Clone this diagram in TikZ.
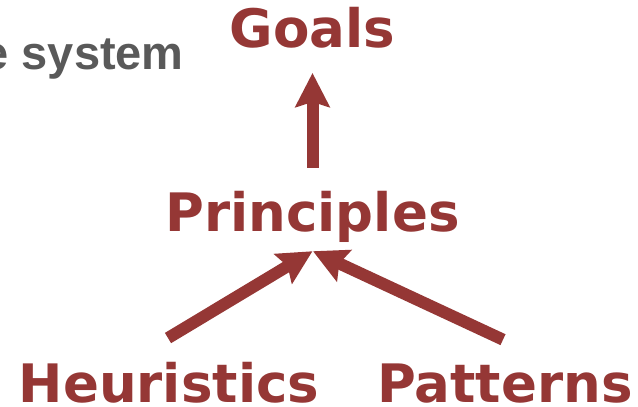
\documentclass[tikz,border=0pt]{standalone}
\usepackage{fontspec}
\setmainfont{DejaVu Sans}
\newfontfamily\arialfont{Liberation Sans}
\usetikzlibrary{arrows.meta}
\definecolor{dred}{HTML}{953735}
\definecolor{tgray}{HTML}{595959}
\begin{document}
\begin{tikzpicture}[x=1pt,y=1pt,
  lbl/.style={inner sep=0pt, anchor=base, text=dred, font=\fontsize{53}{53}\selectfont\bfseries},
  conn/.style={draw=dred, line width=12pt, -{Stealth[length=34pt,width=34pt,inset=5pt]}}]
\useasboundingbox (0,0) rectangle (638,407);
\node[lbl] (goals) at (312.5,359) {Goals};
\node[lbl] (princ) at (312.5,175) {Principles};
\node[lbl] (heur) at (169,4.5) {Heuristics};
\node[lbl] (patt) at (505,4.5) {Patterns};
\node[inner sep=0pt, anchor=base east, text=tgray, font=\fontsize{47}{47}\selectfont\arialfont\bfseries] (sys) at (184,337) {e system};
\draw[conn] ([yshift=24pt]princ.north) -- ([yshift=-24pt]goals.south);
\draw[conn] ([shift={(-1pt,24pt)}]heur.north) -- ([yshift=-8pt]princ.south);
\draw[conn] ([shift={(-2pt,24pt)}]patt.north) -- ([xshift=0.5pt,yshift=-8pt]princ.south);
\end{tikzpicture}
\end{document}
